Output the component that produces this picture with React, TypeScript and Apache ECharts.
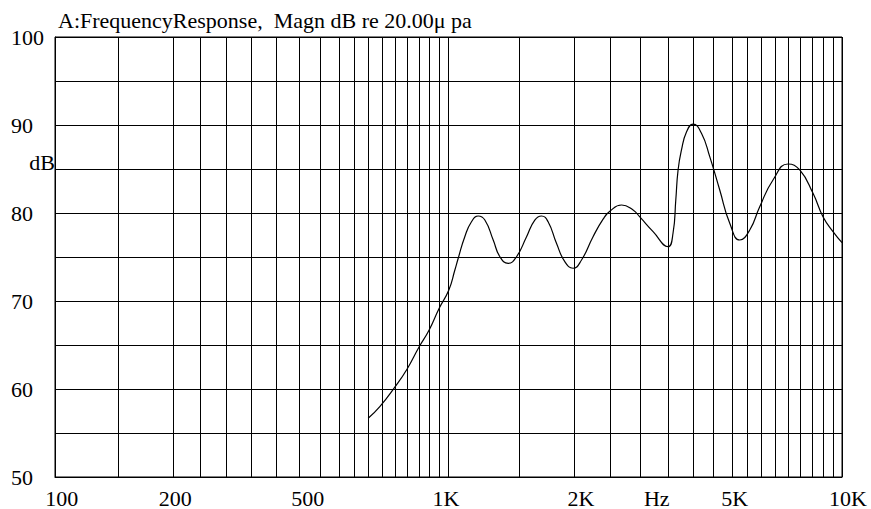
import React, { useEffect, useRef } from 'react';
import * as echarts from 'echarts';

const FONT = '"Liberation Serif", "Times New Roman", serif';

// Frequency response curve (Hz, dB)
const curveFreq = [625, 669, 732, 785, 841, 893, 947, 1002, 1038, 1059, 1100, 1144, 1190, 1237, 1299, 1351, 1418, 1489, 1579, 1657, 1723, 1791, 1881, 1975, 2073, 2178, 2330, 2471, 2570, 2753, 2945, 3063, 3311, 3614, 3721, 3781, 3832, 3909, 4025, 4183, 4394, 4612, 4890, 5185, 5498, 5829, 6179, 6678, 7293, 7809, 8440, 8948, 9487, 10000];
const curveDb = [56.67, 57.99, 60.26, 62.27, 64.74, 66.7, 69.17, 71.25, 73.52, 74.89, 77.31, 79.01, 79.66, 79.2, 76.93, 75.03, 74.28, 75.03, 77.31, 79.2, 79.66, 79.01, 76.56, 74.47, 73.72, 74.66, 77.31, 79.3, 80.2, 80.91, 80.34, 79.55, 77.88, 76.17, 77.73, 81.48, 84.89, 87.16, 89.2, 90.11, 89.06, 86.4, 82.61, 78.83, 76.93, 78.07, 80.72, 83.75, 85.57, 84.89, 82.24, 79.58, 77.88, 76.63];

// Vertical grid line positions (Hz, on the chart's frequency scale)
const gridFreqs = [100, 144.8, 199.5, 233.9, 273, 316, 365, 416.7, 472.6, 526.7, 574.8, 625.1, 677.2, 731.5, 786.3, 840.9, 893.1, 945.1, 1000, 1512, 2085, 2570, 3077, 3612, 4176, 4721, 5246, 5736, 6244, 6756, 7301, 7855, 8401, 8943, 9487, 10000];

// X tick labels and where they sit
const xLabelFreqs = [104, 202, 439, 985, 2169, 3383, 5339, 10000];
const xLabelTexts = ['100', '200', '500', '1K', '2K', 'Hz', '5K', '10K'];

// Y axis
const yMin = 50;
const yMax = 100;
const yStep = 5;
const yLabelStep = 10;
const yUnitAt = [85];
const yUnitText = 'dB';

const titleText = 'A:FrequencyResponse,  Magn dB re 20.00\u03bc pa';

function xLabelFor(v: number): string {
  let best = 0;
  let bd = Infinity;
  for (let i = 0; i < xLabelFreqs.length; i++) {
    const d = Math.abs(Math.log10(v) - Math.log10(xLabelFreqs[i]));
    if (d < bd) {
      bd = d;
      best = i;
    }
  }
  const t = xLabelTexts[best];
  return best === xLabelTexts.length - 1 ? '{r|' + t + '}' : t;
}

export default function App() {
  const ref = useRef<HTMLDivElement>(null);
  useEffect(() => {
    if (!ref.current) return;
    const chart = echarts.init(ref.current, null, { renderer: 'svg' });
    const labelStyle = { fontFamily: FONT, fontSize: 22, color: '#000' };
    chart.setOption({
      animation: false,
      backgroundColor: '#fff',
      textStyle: { fontFamily: FONT },
      title: {
        text: titleText,
        left: 58,
        top: 9,
        padding: 0,
        textStyle: { fontFamily: FONT, fontSize: 22, fontWeight: 'normal', color: '#000' },
      },
      grid: {
        left: 55,
        right: 29,
        top: 37,
        bottom: 32,
        show: true,
        borderColor: '#000',
        borderWidth: 1,
        backgroundColor: 'transparent',
      },
      xAxis: {
        type: 'log',
        logBase: 10,
        min: 100,
        max: 10000,
        axisLine: { show: true, lineStyle: { color: '#000', width: 1 } },
        axisTick: { show: false, customValues: gridFreqs },
        minorTick: { show: false },
        minorSplitLine: { show: false },
        splitLine: { show: true, lineStyle: { color: '#000', width: 1 } },
        axisLabel: {
          customValues: xLabelFreqs,
          formatter: (v: number) => xLabelFor(v),
          margin: 10,
          hideOverlap: false,
          ...labelStyle,
          rich: {
            r: { ...labelStyle, padding: [0, 0, 0, 12] },
          },
        },
      },
      yAxis: [
        {
          type: 'value',
          min: yMin,
          max: yMax,
          interval: yStep,
          axisLine: { show: true, lineStyle: { color: '#000', width: 1 } },
          axisTick: { show: false },
          splitLine: { show: true, lineStyle: { color: '#000', width: 1 } },
          axisLabel: {
            formatter: (v: number) => (Math.round(v) % yLabelStep === 0 ? String(Math.round(v)) : ''),
            align: 'left',
            margin: 44,
            ...labelStyle,
          },
        },
        {
          type: 'value',
          min: yMin,
          max: yMax,
          position: 'left',
          offset: 0,
          axisLine: { show: false },
          axisTick: { show: false },
          splitLine: { show: false },
          axisLabel: {
            customValues: yUnitAt,
            formatter: () => yUnitText,
            align: 'right',
            verticalAlign: 'bottom',
            lineHeight: 14,
            margin: 0,
            ...labelStyle,
          },
        },
      ],
      series: [
        {
          type: 'line',
          xAxisIndex: 0,
          yAxisIndex: 0,
          data: curveFreq.map((f, i) => [f, curveDb[i]]),
          showSymbol: false,
          smooth: true,
          lineStyle: { color: '#000', width: 1.2 },
        },
      ],
    });
    return () => chart.dispose();
  }, []);
  return (
    <div
      ref={ref}
      style={{ position: 'fixed', left: 0, top: 0, width: 871, height: 509, background: '#fff' }}
    />
  );
}
